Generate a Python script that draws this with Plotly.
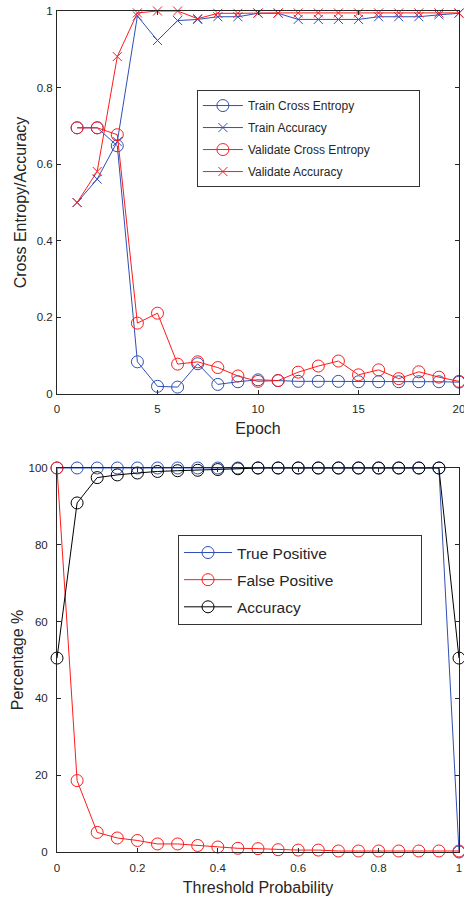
import plotly.graph_objects as go

epochs = list(range(1, 21))
train_ce = [0.695, 0.695, 0.648, 0.084, 0.020, 0.018, 0.079, 0.025, 0.032, 0.037,
            0.035, 0.033, 0.033, 0.033, 0.032, 0.032, 0.032, 0.032, 0.032, 0.031]
train_acc = [0.500, 0.561, 0.659, 0.987, 0.923, 0.975, 0.978, 0.985, 0.985, 0.994,
             0.994, 0.978, 0.978, 0.978, 0.978, 0.985, 0.985, 0.985, 0.990, 0.994]
val_ce = [0.695, 0.695, 0.677, 0.185, 0.211, 0.078, 0.084, 0.069, 0.047, 0.033,
          0.035, 0.057, 0.073, 0.086, 0.050, 0.063, 0.040, 0.058, 0.044, 0.033]
val_acc = [0.500, 0.581, 0.881, 0.995, 1.000, 1.000, 0.980, 0.994, 0.994, 0.995,
           0.995, 0.995, 0.995, 0.995, 0.995, 0.995, 0.995, 0.995, 0.995, 0.995]

thresholds = [0, 0.05, 0.1, 0.15, 0.2, 0.25, 0.3, 0.35, 0.4, 0.45, 0.5,
              0.55, 0.6, 0.65, 0.7, 0.75, 0.8, 0.85, 0.9, 0.95, 1.0]
true_pos = [100] * 20 + [0]
false_pos = [100, 18.6, 5.1, 3.65, 3.0, 2.1, 2.1, 1.7, 1.3, 0.96, 0.87,
             0.6, 0.5, 0.5, 0.26, 0.26, 0.26, 0.26, 0.26, 0.26, 0.26]
accuracy = [50.5, 90.9, 97.5, 98.2, 98.7, 99.1, 99.3, 99.4, 99.6, 99.8, 100,
            100, 100, 100, 100, 100, 100, 100, 100, 100, 50.5]

top_names = ["Train Cross Entropy", "Train Accuracy", "Validate Cross Entropy", "Validate Accuracy"]
bottom_names = ["True Positive", "False Positive", "Accuracy"]

BLUE = "#2f4fb5"
RED = "#ff1a1a"
BLACK = "#000000"
AX = "#262626"
FONT = "Liberation Sans, Arial, sans-serif"
NB = "\u00a0"

fig = go.Figure()

def add(x, y, name, color, symbol, size, xa, ya, legend):
    fig.add_trace(go.Scatter(
        x=x, y=y, name=name, mode="lines+markers", legendgroup=name.strip(NB),
        line=dict(color=color, width=1),
        marker=dict(symbol=symbol, size=size, color=color,
                    line=dict(color=color, width=1)),
        xaxis=xa, yaxis=ya, legend=legend, cliponaxis=False))

add(epochs, train_ce, top_names[0], BLUE, "circle-open", 12, "x", "y", "legend")
add(epochs, train_acc, top_names[1], BLUE, "x-thin-open", 9, "x", "y", "legend")
add(epochs, val_ce, top_names[2] + NB * 13, RED, "circle-open", 12, "x", "y", "legend")
add(epochs, val_acc, top_names[3], RED, "x-thin-open", 9, "x", "y", "legend")

add(thresholds, true_pos, bottom_names[0], BLUE, "circle-open", 12, "x2", "y2", "legend2")
add(thresholds, false_pos, bottom_names[1] + NB * 19, RED, "circle-open", 12, "x2", "y2", "legend2")
add(thresholds, accuracy, bottom_names[2], BLACK, "circle-open", 12, "x2", "y2", "legend2")

axis_common = dict(showline=True, linecolor=AX, linewidth=1, mirror="ticks",
                   ticks="inside", ticklen=4, tickcolor=AX, showgrid=False,
                   zeroline=False, automargin=False, ticklabeloverflow="allow",
                   tickfont=dict(size=11.5, color=AX, family=FONT))

fig.update_layout(
    width=464, height=901,
    margin=dict(l=57, r=5, t=11, b=49),
    paper_bgcolor="white", plot_bgcolor="white",
    font=dict(family=FONT, color=AX),
    xaxis=dict(domain=[0, 1], range=[0, 20], tickvals=[0, 5, 10, 15, 20],
               anchor="y", ticklabelstandoff=4,
               title=dict(text="Epoch", font=dict(size=16), standoff=9),
               **axis_common),
    yaxis=dict(domain=[0.5446, 1], range=[0, 1], tickvals=[0, 0.2, 0.4, 0.6, 0.8, 1],
               ticktext=["0", "0.2", "0.4", "0.6", "0.8", "1"], ticklabelstandoff=1,
               anchor="x", title=dict(text="Cross Entropy/Accuracy", font=dict(size=16), standoff=6),
               **axis_common),
    xaxis2=dict(domain=[0, 1], range=[0, 1], tickvals=[0, 0.2, 0.4, 0.6, 0.8, 1],
                ticktext=["0", "0.2", "0.4", "0.6", "0.8", "1"], ticklabelstandoff=5,
                anchor="y2", title=dict(text="Threshold Probability", font=dict(size=16), standoff=9),
                **axis_common),
    yaxis2=dict(domain=[0, 0.4566], range=[0, 100], tickvals=[0, 20, 40, 60, 80, 100],
                anchor="x2", ticklabelstandoff=6,
                title=dict(text="Percentage %", font=dict(size=16), standoff=0),
                **axis_common),
    legend=dict(x=0.348, y=0.906, xanchor="left", yanchor="top",
                bordercolor="#333333", borderwidth=1, bgcolor="white", itemwidth=40,
                font=dict(size=12, color=AX), tracegroupgap=3),
    legend2=dict(x=0.301, y=0.377, xanchor="left", yanchor="top",
                 bordercolor="#333333", borderwidth=1, bgcolor="white", itemwidth=48,
                 font=dict(size=15.5, color=AX), tracegroupgap=4),
    showlegend=True,
)

fig.write_html("out.html")
